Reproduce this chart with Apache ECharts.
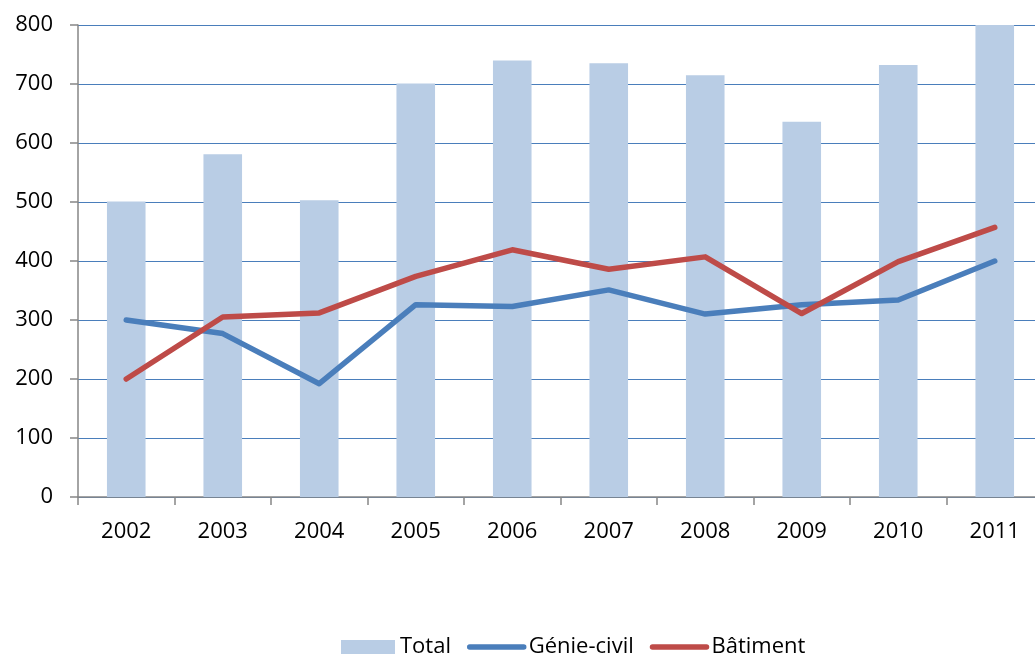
<!DOCTYPE html>
<html>
<head>
<meta charset="utf-8">
<script src="https://cdn.jsdelivr.net/npm/echarts@6/dist/echarts.min.js"></script>
<style>
html,body{margin:0;padding:0;background:#fff;overflow:hidden;}
#chart{width:1035px;height:657px;}
</style>
</head>
<body>
<div id="chart"></div>
<script>
const years = ['2002','2003','2004','2005','2006','2007','2008','2009','2010','2011'];
const total = [501, 581, 503, 701, 740, 735, 715, 636, 732, 801];
const genieCivil = [300, 277, 192, 326, 323, 351, 310, 326, 334, 400];
const batiment = [200, 305, 312, 374, 419, 386, 407, 311, 399, 457];
const yTicks = [0, 100, 200, 300, 400, 500, 600, 700, 800];

const FONT = '"Open Sans", "Noto Sans", sans-serif';
const chart = echarts.init(document.getElementById('chart'), null, {renderer: 'canvas'});
const hiddenDot = {color: 'rgba(0,0,0,0)', borderColor: 'rgba(0,0,0,0)', borderWidth: 0};
chart.setOption({
  animation: false,
  backgroundColor: '#ffffff',
  grid: {left: 78, right: -8, top: 25, bottom: 160, containLabel: false, outerBoundsMode: 'none'},
  legend: {
    left: 336, top: 631,
    itemWidth: 54, itemHeight: 14, itemGap: 16,
    textStyle: {fontFamily: FONT, fontSize: 22, color: '#000'},
    data: [
      {name: 'Total', icon: 'rect'},
      {name: 'Génie-civil', itemStyle: hiddenDot, lineStyle: {width: 5.5, cap: 'round'}},
      {name: 'Bâtiment', itemStyle: hiddenDot, lineStyle: {width: 5.5, cap: 'round'}}
    ]
  },
  xAxis: {
    type: 'category',
    data: years,
    boundaryGap: true,
    axisLine: {show: true, lineStyle: {color: '#868686', width: 1.5}},
    axisTick: {show: true, length: 8, alignWithLabel: false, lineStyle: {color: '#868686', width: 1.5}},
    axisLabel: {fontFamily: FONT, fontSize: 22, color: '#000', margin: 24, interval: 0},
    splitLine: {show: false}
  },
  yAxis: {
    type: 'value',
    min: yTicks[0], max: yTicks[yTicks.length - 1], interval: 100,
    axisLine: {show: true, lineStyle: {color: '#868686', width: 1.5}},
    axisTick: {show: true, length: 8, lineStyle: {color: '#868686', width: 1.5}},
    axisLabel: {fontFamily: FONT, fontSize: 22, color: '#000', margin: 25},
    splitLine: {show: true, lineStyle: {color: '#4A7EBB', width: 1.2}}
  },
  series: [
    {
      name: 'Total', type: 'bar', data: total, barWidth: '40%',
      itemStyle: {color: '#B9CDE5'}
    },
    {
      name: 'Génie-civil', type: 'line', data: genieCivil,
      symbol: 'none', showSymbol: false,
      lineStyle: {color: '#4A7EBB', width: 5.5, cap: 'round', join: 'round'},
      itemStyle: {color: '#4A7EBB'}
    },
    {
      name: 'Bâtiment', type: 'line', data: batiment,
      symbol: 'none', showSymbol: false,
      lineStyle: {color: '#BE4B48', width: 5.5, cap: 'round', join: 'round'},
      itemStyle: {color: '#BE4B48'}
    }
  ]
});
</script>
</body>
</html>
